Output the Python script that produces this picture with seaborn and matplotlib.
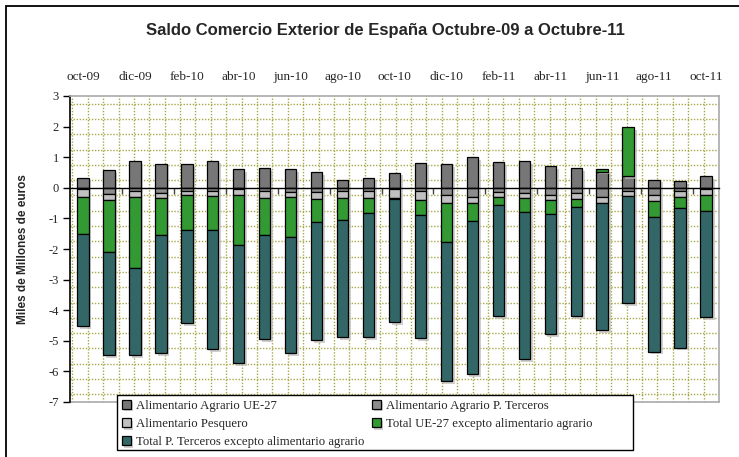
import numpy as np
import pandas as pd
import matplotlib
matplotlib.use("Agg")
import matplotlib.pyplot as plt
import matplotlib.patheffects as pe
from matplotlib.patches import Rectangle
import seaborn as sns

# datos (miles de millones de euros)
meses = ["oct-09", "nov-09", "dic-09", "ene-10", "feb-10", "mar-10", "abr-10", "may-10",
         "jun-10", "jul-10", "ago-10", "sep-10", "oct-10", "nov-10", "dic-10", "ene-11",
         "feb-11", "mar-11", "abr-11", "may-11", "jun-11", "jul-11", "ago-11", "sep-11", "oct-11"]

agrario_ue27 = [0.33, 0.58, 0.88, 0.79, 0.77, 0.89, 0.62, 0.65, 0.60, 0.52, 0.26, 0.33, 0.50,
                0.82, 0.77, 1.01, 0.85, 0.88, 0.70, 0.64, 0.53, 0.39, 0.27, 0.23, 0.39]
agrario_terceros = [-0.05, -0.20, -0.09, -0.16, -0.11, -0.09, -0.05, -0.12, -0.13, -0.14, -0.10,
                    -0.09, -0.04, -0.11, -0.22, -0.30, -0.14, -0.17, -0.22, -0.17, -0.29, -0.09,
                    -0.22, -0.12, -0.03]
pesquero = [-0.24, -0.19, -0.20, -0.17, -0.12, -0.17, -0.18, -0.21, -0.16, -0.22, -0.23, -0.24,
            -0.29, -0.28, -0.27, -0.21, -0.15, -0.17, -0.17, -0.19, -0.20, -0.18, -0.21, -0.17, -0.22]
total_ue27 = [-1.21, -1.70, -2.34, -1.22, -1.14, -1.11, -1.63, -1.22, -1.31, -0.76, -0.71, -0.49,
              -0.03, -0.49, -1.27, -0.59, -0.28, -0.46, -0.46, -0.27, 0.09, 1.60, -0.52, -0.36, -0.51]
total_terceros = [-3.03, -3.37, -2.83, -3.86, -3.05, -3.91, -3.87, -3.40, -3.81, -3.86, -3.85,
                  -4.07, -4.04, -4.03, -4.57, -4.98, -3.63, -4.79, -3.92, -3.57, -4.17, -3.51,
                  -4.40, -4.57, -3.46]

series = [
    ("Alimentario Agrario UE-27", agrario_ue27, "#777777"),
    ("Alimentario Agrario P. Terceros", agrario_terceros, "#8c8c8c"),
    ("Alimentario Pesquero", pesquero, "#c0c0c0"),
    ("Total UE-27 excepto alimentario agrario", total_ue27, "#339933"),
    ("Total P. Terceros excepto alimentario agrario", total_terceros, "#336666"),
]

sns.set_style("white")
plt.rcParams["font.family"] = ["Liberation Serif", "DejaVu Serif"]

fig = plt.figure(figsize=(7.39, 4.57), dpi=100)
ax = fig.add_axes([70 / 739, 1 - 402 / 457, 649 / 739, 306 / 457])

# apilado: positivos hacia arriba, negativos hacia abajo
pos_base = np.zeros(len(meses))
neg_base = np.zeros(len(meses))
for nombre, vals, color in series:
    v = np.array(vals)
    base = np.where(v >= 0, pos_base, neg_base)
    sns.barplot(x=meses, y=v, bottom=base, color=color, width=0.44,
                edgecolor="black", linewidth=0.9, saturation=1, ax=ax,
                label=nombre, zorder=3)
    pos_base = pos_base + np.where(v >= 0, v, 0)
    neg_base = neg_base + np.where(v < 0, v, 0)

for p in ax.patches:
    p.set_path_effects([pe.SimplePatchShadow(offset=(2, -2), shadow_rgbFace="#bbbbbb", alpha=0.7),
                        pe.Normal()])

ax.set_xlim(-0.5, len(meses) - 0.5)
ax.set_ylim(-7, 3)

# trama de fondo punteada
for yy in np.arange(-6.75, 3, 0.5):
    ax.axhline(yy, color="#a8a848", lw=1.0, ls=(0, (1, 1.2)), zorder=0)
for xx in np.arange(-0.41, len(meses) - 0.5, 0.593):
    ax.axvline(xx, color="#a8a848", lw=1.0, ls=(0, (1, 1.2)), zorder=0)

# eje x en el cero, etiquetas arriba
ax.spines["bottom"].set_position(("data", 0))
ax.spines["bottom"].set_color("black")
ax.spines["bottom"].set_linewidth(1.0)
ax.spines["bottom"].set_zorder(4)
ax.set_xticks(np.arange(1.5, len(meses) - 0.5, 2))
ax.set_xticklabels([])
ax.tick_params(axis="x", direction="out", length=4, width=1, color="#444444", bottom=True)
ax.set_xlabel("")

sec = ax.secondary_xaxis("top")
sec.set_xticks(range(0, len(meses), 2))
sec.set_xticklabels(meses[::2], fontsize=9.5)
sec.tick_params(length=0, pad=9)
sec.spines["top"].set_visible(False)

ax.set_yticks(range(-7, 4))
ax.set_yticklabels([str(t) for t in range(-7, 4)], fontsize=9)
ax.tick_params(axis="y", direction="out", length=5, width=1, color="black", left=True, pad=3)
ax.spines["left"].set_color("black")
ax.spines["left"].set_linewidth(1.2)
for s in ["top", "right"]:
    ax.spines[s].set_color("#aaaaaa")
    ax.spines[s].set_linewidth(1.2)

# linea gris inferior del area de trazado
ax.plot([0, 1], [0, 0], transform=ax.transAxes, color="#aaaaaa", lw=1.2, clip_on=False, zorder=1)

ax.set_ylabel("Miles de Millones de euros", fontsize=8.5, fontweight="bold",
              family=["Liberation Sans", "DejaVu Sans"])
ax.yaxis.set_label_coords(-41 / 649, 0.5)

fig.text(385 / 739, 1 - 31 / 457, "Saldo Comercio Exterior de España Octubre-09 a Octubre-11",
         ha="center", va="center", fontsize=12, fontweight="bold",
         family=["Liberation Sans", "DejaVu Sans"])

# caja de la leyenda (x 117-633, y 395-450 en pixeles)
caja = Rectangle((47 / 649, -48 / 306), 516 / 649, 55 / 306, transform=ax.transAxes,
                 facecolor="white", edgecolor="black", lw=1.0, clip_on=False, zorder=9)
ax.add_patch(caja)

# leyenda (orden por columnas)
h, l = ax.get_legend_handles_labels()
orden = [0, 2, 4, 1, 3]
leg = ax.legend([h[i] for i in orden], [l[i] for i in orden], ncol=2,
                loc="upper left", bbox_to_anchor=(49 / 649, 5 / 306),
                fontsize=9.2, frameon=False, handlelength=0.7, handleheight=0.7,
                handletextpad=0.45, labelspacing=0.5, borderpad=0.2, borderaxespad=0,
                columnspacing=0.55)
leg.set_zorder(10)

# marco exterior del grafico
fig.patches.append(Rectangle((6 / 739, -0.1), 1.2, 1 - 6 / 457 + 0.1, transform=fig.transFigure,
                             fill=False, edgecolor="black", lw=1.3))

plt.savefig("out.png", dpi=100)
